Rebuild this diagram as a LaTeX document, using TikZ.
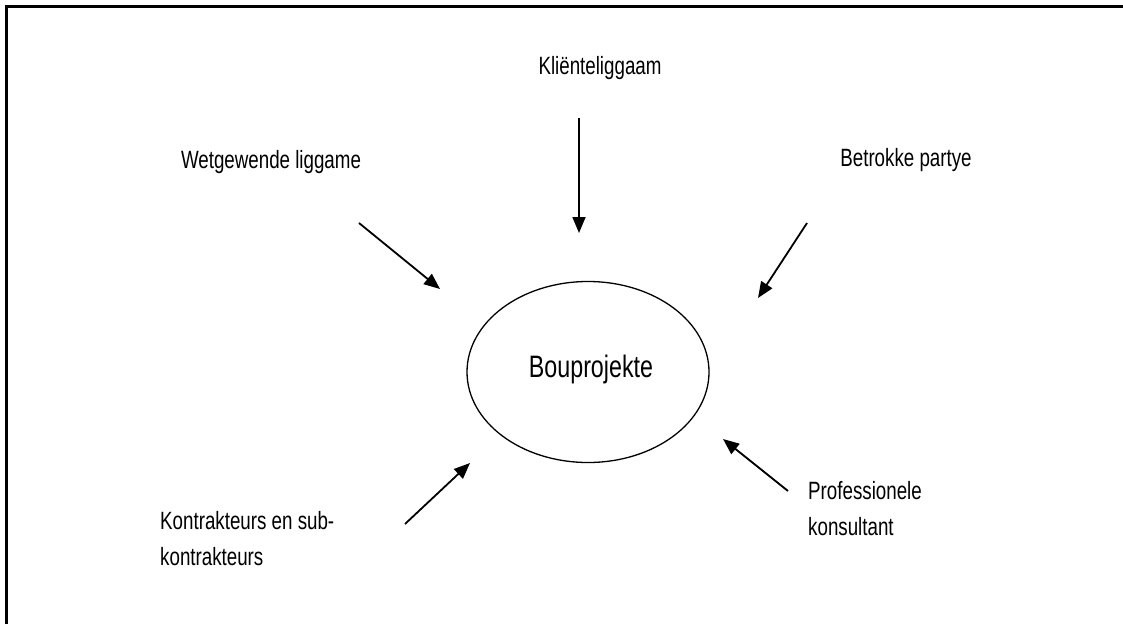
\documentclass[tikz,border=0pt]{standalone}
\usepackage{fontspec}
\setmainfont[FakeStretch=0.75]{Liberation Sans}
\usetikzlibrary{arrows.meta,shapes.geometric}
\begin{document}
\begin{tikzpicture}[x=1pt,y=-1pt,
  lbl/.style={inner sep=0pt,anchor=base,font=\fontsize{25}{36}\selectfont},
  lbll/.style={inner sep=0pt,anchor=base west,font=\fontsize{25}{36}\selectfont},
  arr/.style={line width=1.8pt,-{Triangle[length=16pt,width=13pt]}}]
\useasboundingbox (0,0) rectangle (1123,624);
\draw[line width=2.5pt] (6.5,624) -- (6.5,6.5) -- (1123,6.5);
\node[draw,ellipse,line width=1.3pt,minimum width=242pt,minimum height=181pt,inner sep=0pt] (core) at (588,372) {};
\node[inner sep=0pt,anchor=base,font=\fontsize{31}{36}\selectfont] (bou) at (591,377) {Bouprojekte};
\node[lbl] (klient) at (600,74) {Kliënteliggaam};
\node[lbl] (wet) at (271,168) {Wetgewende liggame};
\node[lbl] (bet) at (906,166) {Betrokke partye};
\node[lbll] (kon1) at (160,529) {Kontrakteurs en sub-};
\node[lbll] (kon2) at (160,565) {kontrakteurs};
\node[lbll] (prof1) at (808,499) {Professionele};
\node[lbll] (prof2) at (808,535) {konsultant};
\coordinate (a1s) at (579,118); \coordinate (a1e) at (579,233);
\coordinate (a2s) at (359,223); \coordinate (a2e) at (440,289);
\coordinate (a3s) at (807,223); \coordinate (a3e) at (758,298);
\coordinate (a4s) at (405,524); \coordinate (a4e) at (470,463);
\coordinate (a5s) at (788,491); \coordinate (a5e) at (723,439);
\draw[arr] (a1s) -- (a1e);
\draw[arr] (a2s) -- (a2e);
\draw[arr] (a3s) -- (a3e);
\draw[arr] (a4s) -- (a4e);
\draw[arr] (a5s) -- (a5e);
\end{tikzpicture}
\end{document}
